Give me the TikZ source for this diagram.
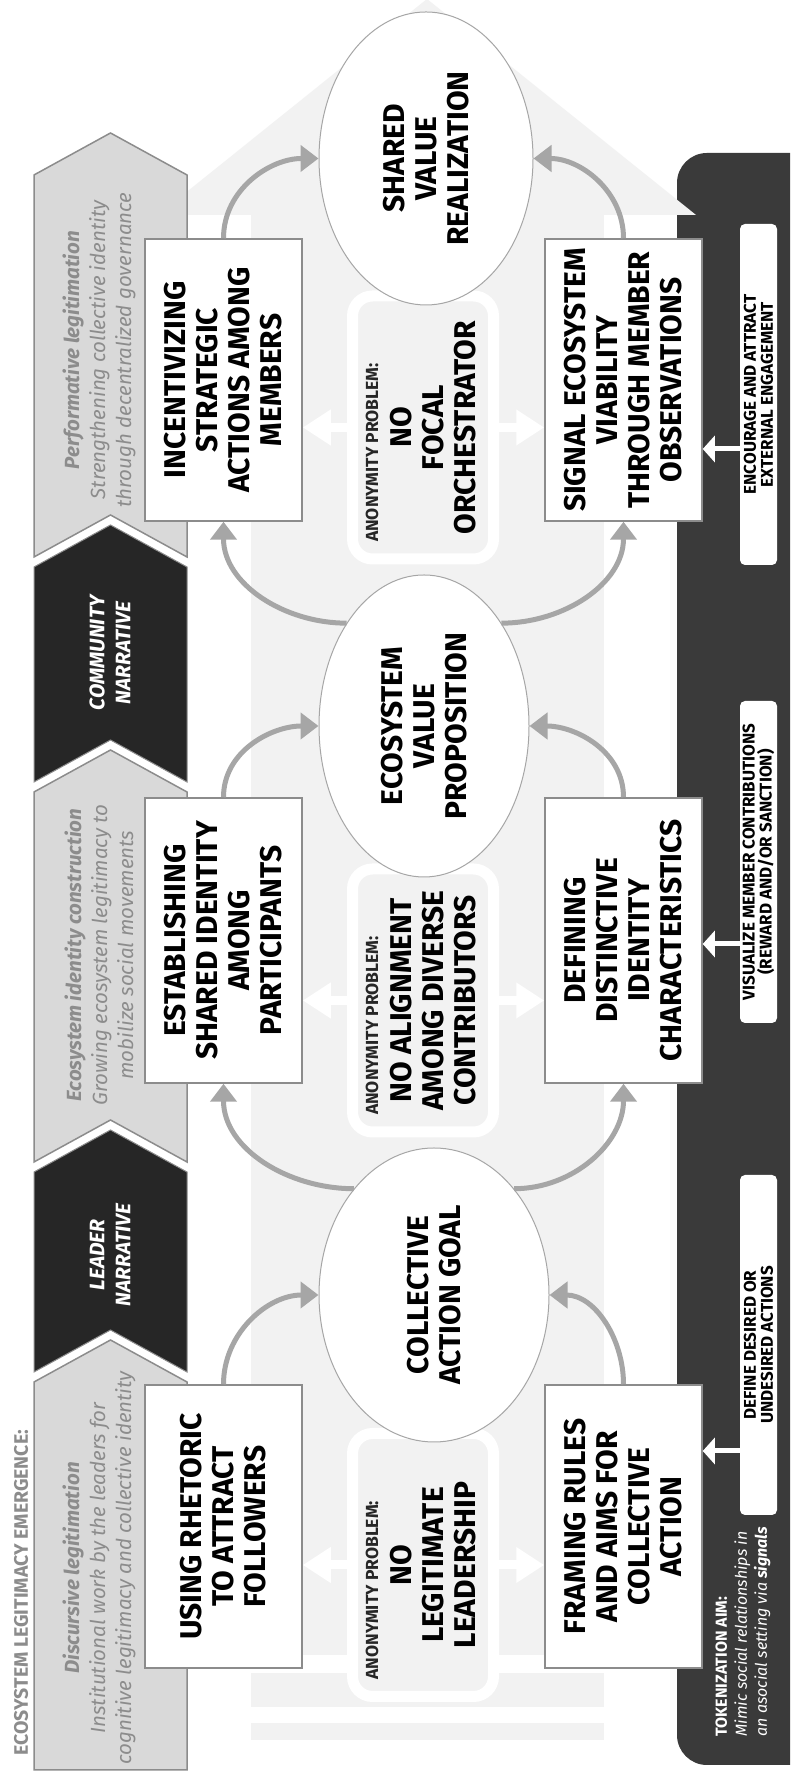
\documentclass[tikz,border=0pt]{standalone}
\usepackage{fontspec}
\setmainfont{Fira Sans}
\usetikzlibrary{arrows.meta,calc,shapes.geometric}
\definecolor{chevlight}{HTML}{D9D9D9}
\definecolor{chevline}{HTML}{8C8C8C}
\definecolor{chevdark}{HTML}{262626}
\definecolor{bgarrow}{HTML}{F2F2F2}
\definecolor{panelc}{HTML}{3A3A3A}
\definecolor{arcgray}{HTML}{A6A6A6}
\definecolor{boxline}{HTML}{8C8C8C}
\definecolor{chevtext}{HTML}{8C8C8C}
\newcommand{\fsz}[2]{\fontsize{#1}{#2}\selectfont}
\begin{document}
\begin{tikzpicture}[x=1pt,y=1pt,
  box/.style={draw=boxline, line width=1.5pt, fill=white, minimum width=157pt, inner sep=0pt},
  boxtext/.style={rotate=90, align=center, font={\bfseries\fsz{30}{32}}, text=black},
  ell/.style={ellipse, draw=arcgray, line width=1pt, fill=white, inner sep=0pt},
  anon/.style={draw=white, line width=11pt, fill=bgarrow, rounded corners=20pt, minimum width=141pt, minimum height=263pt, inner sep=0pt},
  anonlabel/.style={rotate=90, anchor=west, font={\bfseries\fsz{17.5}{18}}, text=black!85},
  arcarrow/.style={draw=arcgray, line width=5pt, -{Triangle[width=26pt,length=18pt]}},
  warrow/.style={draw=white, line width=9pt, -{Triangle[width=34pt,length=28pt]}},
  parrow/.style={draw=white, line width=5pt, -{Triangle[width=26pt,length=12pt]}},
  wbox/.style={fill=white, rounded corners=5pt, minimum width=37pt, inner sep=0pt},
  wtext/.style={rotate=90, align=center, font={\bfseries\fsz{17}{17}}, text=black},
  chevL/.style={fill=chevlight, draw=chevline, line width=1.5pt},
  chevD/.style={fill=chevdark, draw=chevline, line width=1pt},
  chevtxt/.style={rotate=90, align=center, text=chevtext, font={\itshape\fsz{20.5}{26}}},
  narr/.style={rotate=90, align=center, text=white, font={\bfseries\itshape\fsz{21}{26}}}
]
\clip (0,0) rectangle (790,1771);
\fill[white] (0,0) rectangle (790,1771);
% background arrow shaft and tail
\fill[bgarrow] (251,116) rectangle (604,1556);
\fill[bgarrow] (251,64) rectangle (604,98);
\fill[bgarrow] (251,31) rectangle (604,48);
% dark panel
\fill[panelc, rounded corners=30pt] (677,6) rectangle (820,1618);
% arrow head
\fill[bgarrow] (158,1556) -- (427,1772) -- (696,1556) -- cycle;

% chevrons
\draw[chevL] (34,1) -- (187,1) -- (187,389) -- (110.5,431) -- (34,389) -- cycle;
\draw[chevD] (34,399) -- (110.5,441) -- (187,399) -- (187,599) -- (110.5,641) -- (34,599) -- cycle;
\draw[chevL] (34,609) -- (110.5,651) -- (187,609) -- (187,979) -- (110.5,1021) -- (34,979) -- cycle;
\draw[chevD] (34,989) -- (110.5,1031) -- (187,989) -- (187,1204) -- (110.5,1246) -- (34,1204) -- cycle;
\draw[chevL] (34,1214) -- (110.5,1256) -- (187,1214) -- (187,1596) -- (110.5,1638) -- (34,1596) -- cycle;

\node[rotate=90, anchor=west, text=chevtext, font={\bfseries\fsz{19.5}{20}}] (title) at (21,12) {ECOSYSTEM LEGITIMACY EMERGENCE:};
\node[chevtxt] (c1) at (99,203) {\textbf{Discursive legitimation}\\Institutional work by the leaders for\\cognitive legitimacy and collective identity};
\node[narr] (c2) at (110,516) {LEADER\\NARRATIVE};
\node[chevtxt] (c3) at (99,816) {\textbf{Ecosystem identity construction}\\Growing ecosystem legitimacy to\\mobilize social movements};
\node[narr] (c4) at (110,1118) {COMMUNITY\\NARRATIVE};
\node[chevtxt] (c5) at (99,1421) {\textbf{Performative legitimation}\\Strengthening collective identity\\through decentralized governance};

% anonymity problem boxes
\node[anon] (A1) at (423,206) {};
\node[anon] (A2) at (423,770.5) {};
\node[anon] (A3) at (423,1343.5) {};
\node[anonlabel] (A1l) at ($(A1.south)+(-51,19)$) {ANONYMITY PROBLEM:};
\node[anonlabel] (A2l) at ($(A2.south)+(-51,19)$) {ANONYMITY PROBLEM:};
\node[anonlabel] (A3l) at ($(A3.south)+(-51,19)$) {ANONYMITY PROBLEM:};
\node[boxtext] (A1t) at ($(A1.center)+(10,0)$) {NO\\LEGITIMATE\\LEADERSHIP};
\node[boxtext] (A2t) at ($(A2.center)+(10,0)$) {NO ALIGNMENT\\AMONG DIVERSE\\CONTRIBUTORS};
\node[boxtext] (A3t) at ($(A3.center)+(10,0)$) {NO\\FOCAL\\ORCHESTRATOR};

% boxes
\node[box, minimum height=283pt] (L1) at (223.5,244.5) {};
\node[box, minimum height=285pt] (L2) at (223.5,830.5) {};
\node[box, minimum height=282pt] (L3) at (223.5,1391) {};
\node[box, minimum height=283pt] (R1) at (623.5,244.5) {};
\node[box, minimum height=285pt] (R2) at (623.5,830.5) {};
\node[box, minimum height=282pt] (R3) at (623.5,1391) {};
\node[boxtext] (L1t) at (L1) {USING RHETORIC\\TO ATTRACT\\FOLLOWERS};
\node[boxtext] (L2t) at (L2) {ESTABLISHING\\SHARED IDENTITY\\AMONG\\PARTICIPANTS};
\node[boxtext] (L3t) at (L3) {INCENTIVIZING\\STRATEGIC\\ACTIONS AMONG\\MEMBERS};
\node[boxtext] (R1t) at (R1) {FRAMING RULES\\AND AIMS FOR\\COLLECTIVE\\ACTION};
\node[boxtext] (R2t) at (R2) {DEFINING\\DISTINCTIVE\\IDENTITY\\CHARACTERISTICS};
\node[boxtext] (R3t) at (R3) {SIGNAL ECOSYSTEM\\VIABILITY\\THROUGH MEMBER\\OBSERVATIONS};

% white double arrows
\foreach \a/\l/\r in {A1/L1/R1, A2/L2/R2, A3/L3/R3}{
  \draw[warrow] (\a.west) -- (\a.west -| \l.east);
  \draw[warrow] (\a.east) -- (\a.east -| \r.west);
}

% ellipses
\node[ell, minimum width=230pt, minimum height=294pt] (E1) at (434,476) {};
\node[ell, minimum width=210pt, minimum height=302pt] (E2) at (424,1045) {};
\node[ell, minimum width=214pt, minimum height=293pt] (E3) at (426,1612.5) {};
\node[boxtext] (E1t) at (E1) {COLLECTIVE\\ACTION GOAL};
\node[boxtext] (E2t) at (E2) {ECOSYSTEM\\VALUE\\PROPOSITION};
\node[boxtext] (E3t) at (E3) {SHARED\\VALUE\\REALIZATION};

% curved arrows
\draw[arcarrow] (L1.north) to[out=90,in=180] (E1.west);
\draw[arcarrow] (R1.north) to[out=90,in=0] (E1.east);
\draw[arcarrow] (E1.127) to[out=180,in=-90] (L2.south);
\draw[arcarrow] (E1.53) to[out=0,in=-90] (R2.south);
\draw[arcarrow] (L2.north) to[out=90,in=180] (E2.west);
\draw[arcarrow] (R2.north) to[out=90,in=0] (E2.east);
\draw[arcarrow] (E2.127) to[out=180,in=-90] (L3.south);
\draw[arcarrow] (E2.53) to[out=0,in=-90] (R3.south);
\draw[arcarrow] (L3.north) to[out=90,in=180] (E3.west);
\draw[arcarrow] (R3.north) to[out=90,in=0] (E3.east);

% panel boxes
\node[wbox, minimum height=340pt] (W1) at (758.5,426) {};
\node[wbox, minimum height=322pt] (W2) at (758.5,909) {};
\node[wbox, minimum height=341pt] (W3) at (758.5,1376.5) {};
\node[wtext] (W1t) at (W1) {DEFINE DESIRED OR\\UNDESIRED ACTIONS};
\node[wtext] (W2t) at (W2) {VISUALIZE MEMBER CONTRIBUTIONS\\(REWARD AND/OR SANCTION)};
\node[wtext] (W3t) at (W3) {ENCOURAGE AND ATTRACT\\EXTERNAL ENGAGEMENT};
\coordinate (w1a) at ($(W1.west)+(0,-106)$);
\coordinate (w2a) at ($(W2.west)+(0,-82)$);
\coordinate (w3a) at ($(W3.west)+(0,-54.5)$);
\draw[parrow] (w1a) -- (w1a -| R1.east);
\draw[parrow] (w2a) -- (w2a -| R2.east);
\draw[parrow] (w3a) -- (w3a -| R3.east);

\node[rotate=90, anchor=west, align=left, text=white, font={\fsz{16}{20}}] (tok) at (743,31)
  {\textbf{TOKENIZATION AIM:}\\\textit{Mimic social relationships in}\\\textit{an asocial setting via \textbf{signals}}};
\end{tikzpicture}
\end{document}
